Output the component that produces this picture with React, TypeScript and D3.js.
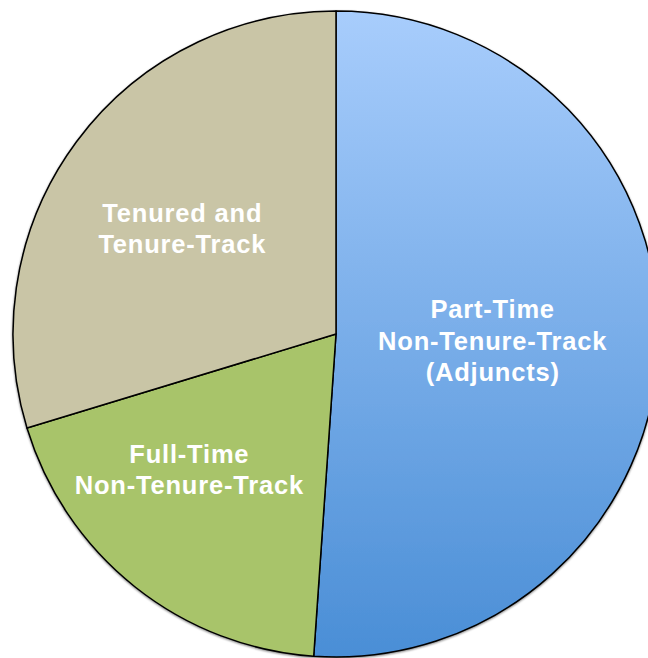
import React from "react";
import * as d3 from "d3";

// faculty share, clockwise from 12 o'clock
const categories = ["Part-Time Non-Tenure-Track (Adjuncts)", "Full-Time Non-Tenure-Track", "Tenured and Tenure-Track"];
const shares = [51.1, 19.2, 29.7];
const labelLines = [
  ["Part-Time", "Non-Tenure-Track", "(Adjuncts)"],
  ["Full-Time", "Non-Tenure-Track"],
  ["Tenured and", "Tenure-Track"],
];

const width = 648;
const height = 658;
const cx = 336;
const cy = 334;
const radius = 323;

const fills = ["url(#blueGrad)", "#A8C46A", "#C9C5A6"];
// small nudges to sit the labels where the original puts them
const nudges = [
  [-37, 0],
  [-26, -16],
  [2, 10],
];

const App = () => {
  const pie = d3.pie<number>().sort(null).value((d) => d);
  const slices = pie(shares);
  const arc = d3.arc<d3.PieArcDatum<number>>().innerRadius(0).outerRadius(radius);
  const labelArc = d3.arc<d3.PieArcDatum<number>>().innerRadius(radius * 0.6).outerRadius(radius * 0.6);

  const fontSize = 25.5;
  const lineH = 31.5;

  return (
    <svg
      width={width}
      height={height}
      style={{ position: "absolute", left: 0, top: 0, background: "#fff" }}
    >
      <defs>
        <linearGradient id="blueGrad" gradientUnits="userSpaceOnUse" x1="0" y1={-radius} x2="0" y2={radius}>
          <stop offset="0" stopColor="#A8CDFC" />
          <stop offset="1" stopColor="#4A8ED6" />
        </linearGradient>
        <filter id="shadow" x="-5%" y="-5%" width="110%" height="110%">
          <feGaussianBlur in="SourceAlpha" stdDeviation="1.2" />
          <feOffset dx="0" dy="0.5" result="b" />
          <feComponentTransfer>
            <feFuncA type="linear" slope="0.5" />
          </feComponentTransfer>
          <feMerge>
            <feMergeNode />
            <feMergeNode in="SourceGraphic" />
          </feMerge>
        </filter>
      </defs>
      <g transform={`translate(${cx},${cy})`}>
        <g filter="url(#shadow)">
          {slices.map((s, i) => (
            <path key={categories[i]} d={arc(s) || ""} fill={fills[i]} stroke="#000" strokeWidth={1.5} strokeLinejoin="round" />
          ))}
        </g>
        {slices.map((s, i) => {
          const [lx, ly] = labelArc.centroid(s);
          const x = lx + nudges[i][0];
          const y = ly + nudges[i][1];
          const lines = labelLines[i];
          const top = y - ((lines.length - 1) * lineH) / 2;
          return (
            <text
              key={"l" + i}
              textAnchor="middle"
              fontFamily="'Liberation Sans', Arial, sans-serif"
              fontWeight="bold"
              fontSize={fontSize}
              letterSpacing={0.8}
              fill="#fff"
            >
              {lines.map((t, j) => (
                <tspan key={j} x={x} y={top + j * lineH} dy="0.35em">
                  {t}
                </tspan>
              ))}
            </text>
          );
        })}
      </g>
    </svg>
  );
};

export default App;
